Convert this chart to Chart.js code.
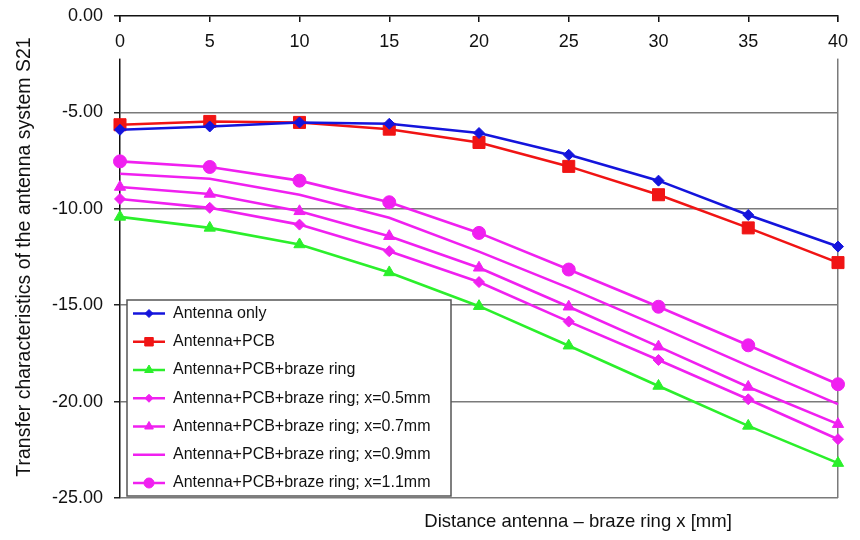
<!DOCTYPE html>
<html><head><meta charset="utf-8">
<script src="https://cdn.jsdelivr.net/npm/chart.js@4.4.1/dist/chart.umd.min.js"></script>
<style>html,body{margin:0;padding:0;background:#fff;}</style>
</head><body>
<canvas id="c" width="860" height="540"></canvas>
<script>
// ---- data ----
const distances = [0, 5, 10, 15, 20, 25, 30, 35, 40];
const seriesNames = [
  'Antenna only',
  'Antenna+PCB',
  'Antenna+PCB+braze ring',
  'Antenna+PCB+braze ring; x=0.5mm',
  'Antenna+PCB+braze ring; x=0.7mm',
  'Antenna+PCB+braze ring; x=0.9mm',
  'Antenna+PCB+braze ring; x=1.1mm'
];
const antennaOnly   = [-5.90, -5.73, -5.52, -5.59, -6.07, -7.20, -8.54, -10.32, -11.96];
const antennaPcb    = [-5.64, -5.47, -5.52, -5.87, -6.56, -7.80, -9.27, -10.99, -12.79];
const brazeRing     = [-10.42, -10.99, -11.85, -13.30, -15.05, -17.10, -19.19, -21.26, -23.19];
const brazeRing05   = [-9.49, -9.95, -10.82, -12.20, -13.80, -15.85, -17.84, -19.88, -21.95];
const brazeRing07   = [-8.87, -9.23, -10.13, -11.42, -13.06, -15.08, -17.15, -19.24, -21.17];
const brazeRing09   = [-8.18, -8.44, -9.27, -10.47, -12.22, -14.10, -16.10, -18.15, -20.13];
const brazeRing11   = [-7.54, -7.83, -8.54, -9.66, -11.25, -13.15, -15.08, -17.08, -19.10];
const yTickValues   = [0, -5, -10, -15, -20, -25];
const xTitle = 'Distance antenna \u2013 braze ring x [mm]';
const yTitle = 'Transfer characteristics of the antenna system S21';

// ---- styles ----
const FONT = '"Liberation Sans", Arial, Helvetica, sans-serif';
const BLUE = '#1414dc', RED = '#f01414', GREEN = '#2bef2b', MAG = '#f020f0';
const allValues = [antennaOnly, antennaPcb, brazeRing, brazeRing05, brazeRing07, brazeRing09, brazeRing11];
const colors = [BLUE, RED, GREEN, MAG, MAG, MAG, MAG];
const styles = ['rectRot', 'rect', 'triangle', 'rectRot', 'triangle', 'circle', 'circle'];
const radii = [5.5, 8.5, 6.5, 5.5, 6.5, 0, 6.5];
const legendRadii = [4, 6, 5, 4, 5, 0, 5];

const datasets = allValues.map((vals, i) => ({
  label: seriesNames[i],
  data: distances.map((d, j) => ({x: d, y: vals[j]})),
  borderColor: colors[i],
  backgroundColor: colors[i],
  pointBackgroundColor: colors[i],
  pointBorderColor: colors[i],
  pointBorderWidth: 1,
  pointStyle: styles[i],
  pointRadius: radii[i],
  borderWidth: 2.6,
  tension: 0,
  clip: false
}));

function drawMarker(ctx, style, r, x, y) {
  if (Chart.helpers && Chart.helpers.drawPoint) {
    Chart.helpers.drawPoint(ctx, {pointStyle: style, radius: r, rotation: 0, borderWidth: 1}, x, y);
  }
}

const overlay = {
  id: 'overlay',
  afterDatasetsDraw(chart) {
    const {ctx, chartArea: a} = chart;
    const bw = 324, bh = 196;
    const bx = a.left + 7, by = a.bottom - bh - 2;
    ctx.save();
    ctx.fillStyle = '#fff';
    ctx.fillRect(bx, by, bw, bh);
    ctx.strokeStyle = '#555';
    ctx.lineWidth = 1.5;
    ctx.strokeRect(bx, by, bw, bh);
    chart.data.datasets.forEach((ds, i) => {
      const cy = by + 13.5 + i * 28.25;
      ctx.strokeStyle = ds.borderColor;
      ctx.lineWidth = 2.5;
      ctx.beginPath(); ctx.moveTo(bx + 6, cy); ctx.lineTo(bx + 38, cy); ctx.stroke();
      if (legendRadii[i] > 0) {
        ctx.fillStyle = ds.borderColor;
        ctx.lineWidth = 1;
        drawMarker(ctx, ds.pointStyle, legendRadii[i], bx + 22, cy);
      }
      ctx.fillStyle = '#111';
      ctx.font = '16px ' + FONT;
      ctx.textBaseline = 'middle';
      ctx.textAlign = 'left';
      ctx.fillText(ds.label, bx + 46, cy);
    });
    ctx.restore();
  },
  afterDraw(chart) {
    const {ctx, chartArea: a} = chart;
    ctx.save();
    ctx.fillStyle = '#111';
    ctx.font = '18.5px ' + FONT;
    ctx.textAlign = 'center';
    ctx.textBaseline = 'middle';
    ctx.fillText(xTitle, a.left + (a.right - a.left) * 0.638, a.bottom + 24);
    ctx.restore();
  }
};

new Chart(document.getElementById('c'), {
  type: 'line',
  data: {datasets},
  options: {
    responsive: false,
    animation: false,
    layout: {padding: {top: 16, right: 22, bottom: 42, left: 0}},
    plugins: {legend: {display: false}, tooltip: {enabled: false}},
    scales: {
      x: {
        type: 'linear',
        position: {y: 0},
        min: 0, max: 40,
        afterBuildTicks: s => { s.ticks = distances.map(v => ({value: v})); },
        ticks: {
          font: {family: FONT, size: 18}, color: '#111', padding: 9, z: 1,
          showLabelBackdrop: true, backdropColor: '#fff',
          backdropPadding: {top: 9, bottom: 6, left: 4, right: 4},
          callback: v => String(v)
        },
        grid: {
          color: c => (c.tick && c.tick.value === 40) ? '#7a7a7a' : 'rgba(0,0,0,0)',
          lineWidth: 1.5, tickColor: '#111', tickLength: 6, drawTicks: true
        },
        border: {display: true, color: '#111', width: 1.5}
      },
      y: {
        type: 'linear',
        position: 'left',
        min: -25, max: 0,
        afterBuildTicks: s => { s.ticks = yTickValues.map(v => ({value: v})); },
        afterFit: s => { s.width = 120; s.paddingTop = 0; s.paddingBottom = 0; },
        ticks: {
          font: {family: FONT, size: 18}, color: '#111', padding: 11,
          callback: v => Number(v).toFixed(2)
        },
        grid: {
          color: c => (c.tick && c.tick.value === 0) ? 'rgba(0,0,0,0)' : '#7a7a7a',
          lineWidth: 1.5, tickColor: '#222', tickLength: 6
        },
        border: {display: true, color: '#111', width: 1.5},
        title: {
          display: true, text: yTitle, color: '#111',
          font: {family: FONT, size: 19.5}, padding: {top: 13, bottom: 0}
        }
      }
    }
  },
  plugins: [overlay]
});
</script>
</body></html>
